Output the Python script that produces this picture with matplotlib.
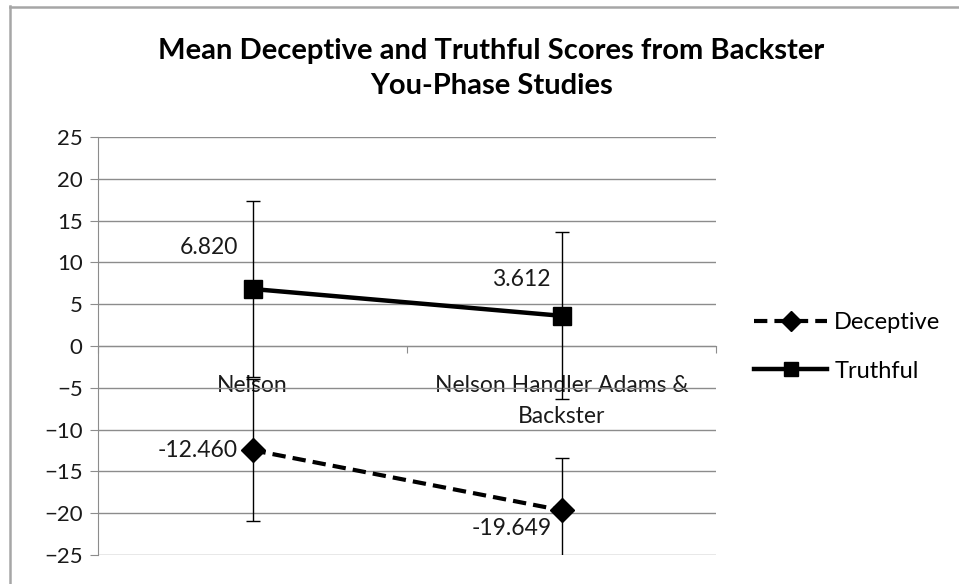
import numpy as np
import matplotlib
matplotlib.use('Agg')
import matplotlib.pyplot as plt
from matplotlib.lines import Line2D

plt.rcParams['font.family'] = ['Lato', 'DejaVu Sans']

# Data
categories = ['Nelson', 'Nelson Handler Adams &\nBackster']
deceptive = [-12.460, -19.649]
truthful = [6.820, 3.612]
deceptive_err = [8.5, 6.3]
truthful_err = [10.5, 10.0]
yticks = [-25, -20, -15, -10, -5, 0, 5, 10, 15, 20, 25]

grid_col = '#8c8c8c'
txt_col = '#1a1a1a'
x = np.arange(len(categories))

fig = plt.figure(figsize=(9.59, 5.84), dpi=100)
ax = fig.add_axes([98/959, 29/584, 618/959, 418/584])

# outer chart border (left and top visible)
fig.add_artist(Line2D([9.5/959, 9.5/959], [0, 1 - 6/584], transform=fig.transFigure,
                      color='#a6a6a6', lw=1.8))
fig.add_artist(Line2D([9.5/959, 1], [1 - 6.5/584, 1 - 6.5/584], transform=fig.transFigure,
                      color='#a6a6a6', lw=1.8))

ax.errorbar(x, deceptive, yerr=deceptive_err, fmt='none', ecolor='black',
            elinewidth=1, capsize=5, capthick=1, zorder=3)
ax.errorbar(x, truthful, yerr=truthful_err, fmt='none', ecolor='black',
            elinewidth=1, capsize=5, capthick=1, zorder=3)
ax.plot(x, deceptive, color='black', lw=3, ls=(0, (3.2, 1.7)), marker='D',
        markersize=12.5, label='Deceptive', zorder=4)
ax.plot(x, truthful, color='black', lw=3.2, marker='s', markersize=13,
        label='Truthful', zorder=4)

# data labels
offsets_d = [(-11, 0), (-7, -13)]
offsets_t = [(-10, 30), (-8, 26)]
for i in range(len(categories)):
    ax.annotate('%.3f' % deceptive[i], (x[i], deceptive[i]), xytext=offsets_d[i],
                textcoords='offset points', ha='right', va='center', fontsize=16.5,
                color=txt_col)
    ax.annotate('%.3f' % truthful[i], (x[i], truthful[i]), xytext=offsets_t[i],
                textcoords='offset points', ha='right', va='center', fontsize=16.5,
                color=txt_col)

ax.set_xlim(-0.5, len(categories) - 0.5)
ax.set_ylim(-25, 25)
ax.set_yticks(yticks)
ax.yaxis.grid(True, color=grid_col, lw=1)
ax.set_axisbelow(True)

for s in ['top', 'right']:
    ax.spines[s].set_visible(False)
ax.spines['left'].set_color(grid_col)
ax.spines['bottom'].set_color(grid_col)
ax.spines['bottom'].set_position(('data', 0))

ax.set_xticks(np.arange(len(categories) + 1) - 0.5)
ax.set_xticklabels([])
ax.set_xticks(x, minor=True)
ax.set_xticklabels(categories, minor=True, fontsize=16.5, color=txt_col,
                   linespacing=1.6)
ax.tick_params(axis='x', which='major', direction='out', length=5, color=grid_col)
ax.tick_params(axis='x', which='minor', length=0, pad=21)
ax.tick_params(axis='y', direction='out', length=6, color=grid_col,
               labelsize=16, labelcolor=txt_col, pad=5)

fig.text(0.5125, 1 - 68.5/584, 'Mean Deceptive and Truthful Scores from Backster\nYou-Phase Studies',
         ha='center', va='center', fontsize=21, fontweight='bold', linespacing=1.45)

fig.legend(loc='center left', bbox_to_anchor=(754/959, 1 - 347/584), frameon=False,
           fontsize=17, handlelength=3.1, handletextpad=0.3, labelspacing=1.15,
           borderaxespad=0, borderpad=0, markerscale=0.8)

fig.savefig('out.png', dpi=100)
